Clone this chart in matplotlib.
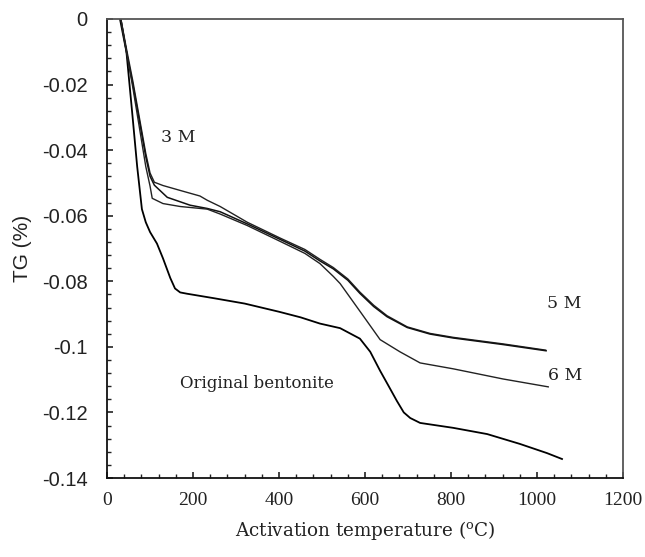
import matplotlib
matplotlib.use("Agg")
import matplotlib.pyplot as plt
from matplotlib.ticker import MultipleLocator, FixedLocator

plt.rcParams['font.family'] = ['DejaVu Serif']
plt.rcParams['mathtext.fontset'] = 'custom'
plt.rcParams['mathtext.rm'] = 'DejaVu Serif'

# Data
orig_x = [30, 45, 58, 70, 81, 90, 100, 116, 130, 147, 158, 170, 186, 250, 320, 400, 450,
          495, 542, 588, 612, 635, 655, 674, 690, 705, 728, 805, 884, 960, 1023, 1058]
orig_y = [0, -0.010, -0.028, -0.045, -0.058, -0.062, -0.065, -0.0685, -0.073, -0.079,
          -0.0822, -0.0834, -0.0838, -0.0852, -0.0868, -0.0893, -0.0910, -0.0929, -0.0943,
          -0.0975, -0.1015, -0.1073, -0.1120, -0.1165, -0.1200, -0.1217, -0.1232, -0.1247,
          -0.1266, -0.1296, -0.1324, -0.1342]

m3_x = [32, 45, 60, 75, 90, 100, 110, 130, 170, 216, 233, 263, 326, 402, 460, 495, 526,
        560, 588, 620, 651, 698, 751, 805, 921, 1020]
m3_y = [0, -0.009, -0.019, -0.030, -0.041, -0.047, -0.0498, -0.0508, -0.0523, -0.0540,
        -0.0553, -0.0572, -0.0620, -0.0668, -0.0703, -0.0733, -0.0758, -0.0793, -0.0833,
        -0.0873, -0.0905, -0.0939, -0.0959, -0.0971, -0.0991, -0.1010]

m5_x = [32, 45, 60, 75, 90, 100, 110, 140, 193, 233, 263, 326, 402, 460, 495, 526, 560,
        588, 620, 651, 698, 751, 805, 921, 1021]
m5_y = [0, -0.010, -0.020, -0.031, -0.042, -0.048, -0.0507, -0.0544, -0.0568, -0.0578,
        -0.0588, -0.0625, -0.0672, -0.0708, -0.0738, -0.0762, -0.0797, -0.0837, -0.0877,
        -0.0908, -0.0941, -0.0961, -0.0973, -0.0993, -0.1012]

m6_x = [32, 45, 60, 75, 90, 100, 105, 130, 170, 233, 263, 326, 402, 460, 495, 526, 542,
        590, 635, 681, 728, 805, 921, 1026]
m6_y = [0, -0.010, -0.021, -0.033, -0.045, -0.051, -0.0547, -0.0563, -0.0572, -0.0580,
        -0.0595, -0.0630, -0.0678, -0.0715, -0.0746, -0.0785, -0.0807, -0.0895, -0.0978,
        -0.1015, -0.1049, -0.1067, -0.1098, -0.1122]

x_ticks = [0, 200, 400, 600, 800, 1000, 1200]
y_ticks = [0, -0.02, -0.04, -0.06, -0.08, -0.1, -0.12, -0.14]
y_tick_labels = ['0', '-0.02', '-0.04', '-0.06', '-0.08', '-0.1', '-0.12', '-0.14']

fig = plt.figure(figsize=(6.45, 5.57), dpi=100)
ax = fig.add_axes([0.166, 0.1418, 0.800, 0.8242])

ax.plot(orig_x, orig_y, color='black', lw=1.3)
ax.plot(m3_x, m3_y, color='#222222', lw=1.0)
ax.plot(m5_x, m5_y, color='#111111', lw=1.1)
ax.plot(m6_x, m6_y, color='#222222', lw=1.0)

ax.set_xlim(0, 1200)
ax.set_ylim(-0.14, 0)
ax.xaxis.set_major_locator(FixedLocator(x_ticks))
ax.xaxis.set_minor_locator(MultipleLocator(40))
ax.yaxis.set_major_locator(FixedLocator(y_ticks))
ax.set_yticklabels(y_tick_labels)
ax.yaxis.set_minor_locator(MultipleLocator(0.004))

ax.tick_params(which='both', direction='in', top=False, right=False, colors='#222222')
ax.tick_params(which='major', length=4.5, width=1.2)
ax.tick_params(which='minor', length=2.6, width=1.0)
ax.tick_params(axis='x', pad=10, labelsize=14, labelfontfamily='Liberation Serif')
ax.tick_params(axis='y', pad=14, labelsize=14.5, labelfontfamily='Liberation Sans')

ax.spines['left'].set_linewidth(1.3)
ax.spines['bottom'].set_linewidth(1.3)
ax.spines['left'].set_color('#111111')
ax.spines['bottom'].set_color('#111111')
ax.spines['top'].set_color('#555555')
ax.spines['right'].set_color('#555555')
ax.spines['top'].set_linewidth(1.3)
ax.spines['right'].set_linewidth(1.3)

ax.set_xlabel(r'Activation temperature ($^{\rm o}$C)', fontsize=13.2, labelpad=7,
              color='#222222')
ax.set_ylabel('TG (%)', fontsize=15, labelpad=7, color='#222222',
              fontfamily='Liberation Sans')

ax.text(126, -0.0361, '3 M', fontsize=12.5, va='center', ha='left', color='#222222')
ax.text(1023, -0.0868, '5 M', fontsize=12.5, va='center', ha='left', color='#222222')
ax.text(1026, -0.1088, '6 M', fontsize=12.5, va='center', ha='left', color='#222222')
ax.text(170, -0.1113, 'Original bentonite', fontsize=12, va='center', ha='left',
        color='#222222')

fig.savefig('out.png', dpi=100)
